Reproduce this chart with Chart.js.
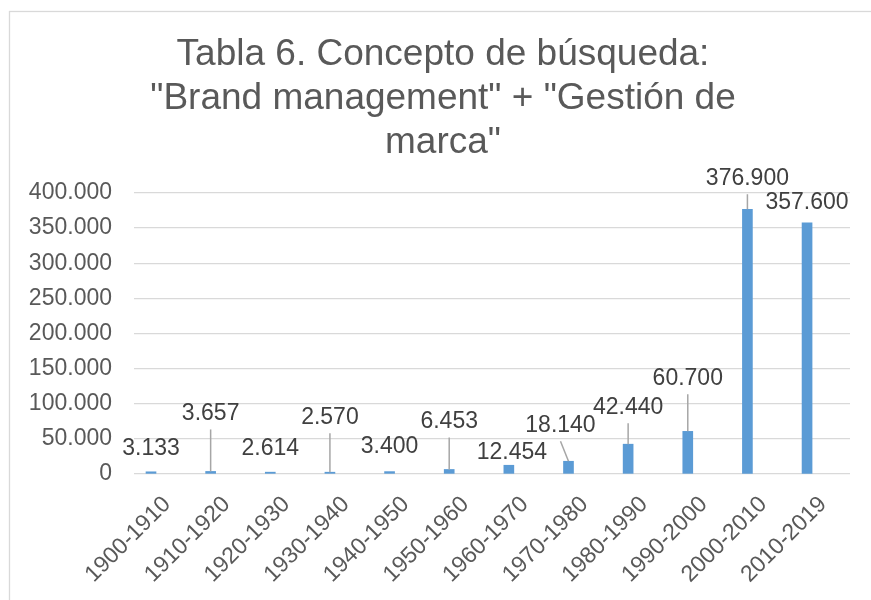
<!DOCTYPE html>
<html>
<head>
<meta charset="utf-8">
<script src="https://cdn.jsdelivr.net/npm/chart.js@4/dist/chart.umd.min.js"></script>
<style>
  html, body { margin: 0; padding: 0; background: #fff; }
  #wrap { width: 871px; height: 600px; position: relative; }
</style>
</head>
<body>
<div id="wrap"><canvas id="chart" width="871" height="600"></canvas></div>
<script>
// Datos
const periods = ["1900-1910", "1910-1920", "1920-1930", "1930-1940", "1940-1950", "1950-1960",
  "1960-1970", "1970-1980", "1980-1990", "1990-2000", "2000-2010", "2010-2019"];
const results = [3133, 3657, 2614, 2570, 3400, 6453, 12454, 18140, 42440, 60700, 376900, 357600];
const yTicks = [0, 50000, 100000, 150000, 200000, 250000, 300000, 350000, 400000];
const titleLines = ["Tabla 6. Concepto de búsqueda:", "\"Brand management\" + \"Gestión de", "marca\""];

// desplazamiento de las etiquetas de datos respecto al extremo de la barra (px)
const labelDx = [0, 0, 0, 0, 0, 0, 3, -8, 0, 0, 0, 0];
const labelDy = [-23, -58, -24, -55, -25, -48, -13, -36, -37, -53, -31, -20];

const FONT = "'Liberation Sans', Arial, sans-serif";

function fmt(v) {
  return String(v).replace(/\B(?=(\d{3})+(?!\d))/g, ".");
}

// marco gris y título (centrado como en Excel, algo a la derecha)
const framePlugin = {
  id: "frame",
  beforeDraw(chart) {
    const ctx = chart.ctx;
    ctx.save();
    ctx.fillStyle = "#fff";
    ctx.fillRect(0, 0, chart.width, chart.height);
    ctx.strokeStyle = "#D9D9D9";
    ctx.lineWidth = 1.3;
    ctx.strokeRect(9.5, 11.5, 1000, 1000);
    ctx.fillStyle = "#595959";
    ctx.font = "37px " + FONT;
    ctx.textAlign = "center";
    ctx.textBaseline = "alphabetic";
    titleLines.forEach((t, i) => ctx.fillText(t, 443, 65 + i * 44));
    ctx.restore();
  }
};

// etiquetas de datos con líneas guía
const dataLabelPlugin = {
  id: "dataLabels",
  afterDatasetsDraw(chart) {
    const ctx = chart.ctx;
    const meta = chart.getDatasetMeta(0);
    ctx.save();
    ctx.font = "23px " + FONT;
    ctx.textAlign = "center";
    ctx.textBaseline = "middle";
    meta.data.forEach((bar, i) => {
      const lx = bar.x + labelDx[i];
      const ly = bar.y + labelDy[i];
      const lineStart = ly + 16;
      if (bar.y - lineStart > 10) {
        ctx.strokeStyle = "#A6A6A6";
        ctx.lineWidth = 1.5;
        ctx.beginPath();
        ctx.moveTo(lx, lineStart);
        ctx.lineTo(bar.x, bar.y);
        ctx.stroke();
      }
      ctx.fillStyle = "#404040";
      ctx.fillText(fmt(results[i]), lx, ly);
    });
    ctx.restore();
  }
};

new Chart(document.getElementById("chart"), {
  type: "bar",
  data: {
    datasets: [{
      data: results.map((v, i) => ({ x: i, y: v })),
      backgroundColor: "#5B9BD5",
      borderWidth: 0,
      barThickness: 10
    }]
  },
  options: {
    responsive: false,
    animation: false,
    layout: { padding: { left: 0, right: 21, top: 193, bottom: 0 } },
    plugins: {
      legend: { display: false },
      tooltip: { enabled: false },
      title: { display: false }
    },
    scales: {
      x: {
        type: "linear",
        offset: false,
        min: -0.285,
        max: 11.72,
        afterBuildTicks: axis => { axis.ticks = periods.map((p, i) => ({ value: i })); },
        afterFit: axis => { axis.height = 126; },
        grid: { display: false, drawTicks: false },
        border: { display: false },
        ticks: {
          autoSkip: false,
          minRotation: 45,
          maxRotation: 45,
          padding: 17,
          labelOffset: 16,
          color: "#595959",
          font: { family: FONT, size: 23 },
          callback: v => periods[v]
        }
      },
      y: {
        min: 0,
        max: 400000,
        afterBuildTicks: axis => { axis.ticks = yTicks.map(v => ({ value: v })); },
        afterFit: axis => { axis.width = 134; },
        grid: { color: "#D9D9D9", lineWidth: 1.3, drawTicks: false },
        border: { display: false },
        ticks: {
          padding: 22,
          color: "#595959",
          font: { family: FONT, size: 23 },
          callback: v => fmt(v)
        }
      }
    }
  },
  plugins: [framePlugin, dataLabelPlugin]
});
</script>
</body>
</html>
